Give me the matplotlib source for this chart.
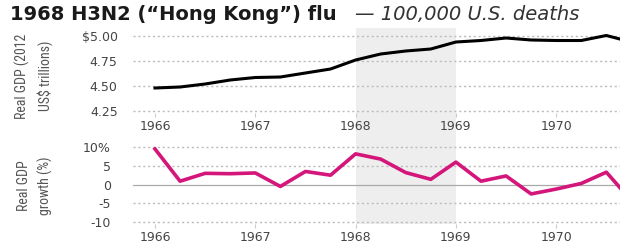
import numpy as np
import matplotlib
matplotlib.use("Agg")
import matplotlib.pyplot as plt
from matplotlib import font_manager

# quarterly data, 1966Q1 .. 1970Q4
quarters = [1966.0, 1966.25, 1966.5, 1966.75,
            1967.0, 1967.25, 1967.5, 1967.75,
            1968.0, 1968.25, 1968.5, 1968.75,
            1969.0, 1969.25, 1969.5, 1969.75,
            1970.0, 1970.25, 1970.5, 1970.75]
gdp = [4.48, 4.49, 4.52, 4.56,
       4.585, 4.59, 4.63, 4.67,
       4.76, 4.82, 4.85, 4.87,
       4.94, 4.955, 4.98, 4.96,
       4.955, 4.955, 5.005, 4.94]
growth = [9.5, 0.9, 3.0, 2.9,
          3.1, -0.5, 3.5, 2.5,
          8.2, 6.8, 3.2, 1.4,
          6.0, 0.9, 2.3, -2.5,
          -1.2, 0.3, 3.3, -4.3]
years = [1966, 1967, 1968, 1969, 1970]
gdp_ticks = [4.25, 4.50, 4.75, 5.00]
gdp_labels = ["4.25", "4.50", "4.75", "$5.00"]
growth_ticks = [-10, -5, 0, 5, 10]
growth_labels = ["-10", "-5", "0", "5", "10%"]
flu_start, flu_end = 1968, 1969

W, H = 620, 246
fig = plt.figure(figsize=(W / 100, H / 100), dpi=100)

# pick a condensed face for the axis titles if one is installed
installed = {f.name for f in font_manager.fontManager.ttflist}
narrow = "DejaVu Sans"
narrow_size = 8.5
for name in ["Liberation Sans Narrow", "Roboto Condensed", "DejaVu Sans Condensed",
             "Open Sans Condensed"]:
    if name in installed:
        narrow = name
        narrow_size = 10
        break

tick_color = "#444444"
grid_color = "#bbbbbb"


def box(left, top, right, bottom):
    return [left / W, 1 - bottom / H, (right - left) / W, (bottom - top) / H]


xlim = (1966 - 22 / 100.3, 1966 + 465 / 100.3)

ax1 = fig.add_axes(box(133, 28, 620, 113))
ax2 = fig.add_axes(box(133, 140, 620, 224))

for ax in (ax1, ax2):
    ax.set_facecolor("none")
    for s in ax.spines.values():
        s.set_visible(False)
    ax.set_xlim(*xlim)
    ax.set_xticks(years)
    ax.set_xticklabels([str(y) for y in years])
    ax.tick_params(axis="x", length=3, width=0.8, color="#cccccc",
                   labelsize=9, labelcolor=tick_color)
    ax.tick_params(axis="y", length=0, labelsize=9, labelcolor=tick_color)

# shaded flu period, runs from the top panel down through the bottom one
gap = (140 - 113) / (113 - 28)
ax1.axvspan(flu_start, flu_end, ymin=-gap, ymax=1, facecolor="#eeeeee",
            edgecolor="none", clip_on=False, zorder=0)
ax2.axvspan(flu_start, flu_end, ymin=0, ymax=1, facecolor="#eeeeee",
            edgecolor="none", zorder=0)

# top panel: GDP level
ax1.set_ylim(4.23, 5.08)
ax1.set_yticks(gdp_ticks)
ax1.set_yticklabels(gdp_labels)
ax1.tick_params(axis="y", pad=11)
ax1.tick_params(axis="x", pad=2)
for v in gdp_ticks:
    ax1.axhline(v, color=grid_color, lw=1.0, ls=(0, (1.5, 2.0)), zorder=1)
ax1.plot(quarters, gdp, color="black", lw=2.2, zorder=3)
ax1.set_ylabel("Real GDP (2012\nUS$ trillions)", family=narrow, fontsize=narrow_size,
               color="#555555", linespacing=1.55)

# bottom panel: GDP growth
ax2.set_ylim(-10.53, 11.9)
ax2.set_yticks(growth_ticks)
ax2.set_yticklabels(growth_labels)
ax2.tick_params(axis="y", pad=16)
ax2.tick_params(axis="x", pad=2)
for v in growth_ticks:
    if v == 0:
        ax2.axhline(v, color="#aaaaaa", lw=0.9, zorder=1)
    else:
        ax2.axhline(v, color=grid_color, lw=1.0, ls=(0, (1.5, 2.0)), zorder=1)
ax2.plot(quarters, growth, color="#d4157a", lw=2.6, zorder=3)
ax2.set_ylabel("Real GDP\ngrowth (%)", family=narrow, fontsize=narrow_size,
               color="#555555", linespacing=1.55)

ax1.yaxis.set_label_coords(-0.165, 0.435)
ax2.yaxis.set_label_coords(-0.165, 0.46)

# title
fig.text(10 / W, 1 - 14 / H, "1968 H3N2 (\u201cHong Kong\u201d) flu",
         fontsize=14, fontweight="bold", color="#1a1a1a", va="center", ha="left")
fig.text(355 / W, 1 - 14 / H, "\u2014 100,000 U.S. deaths",
         fontsize=14, style="italic", fontweight="light", color="#333333",
         va="center", ha="left")

fig.savefig("out.png", dpi=100)
